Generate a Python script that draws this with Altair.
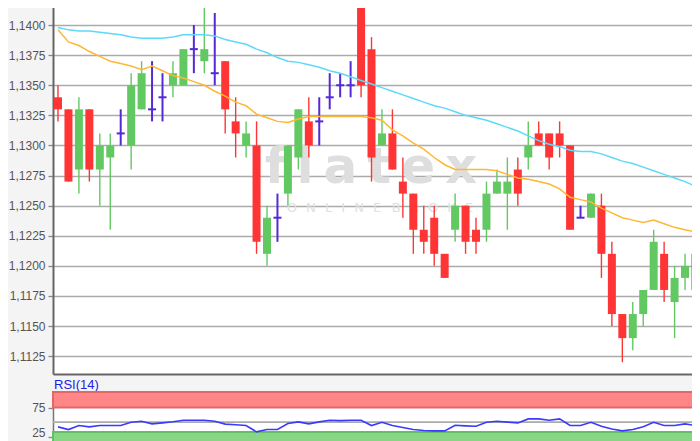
import altair as alt
import numpy as np
import pandas as pd

# ---------------- data ----------------
IDX = list(range(1, 63))
OPEN = [1.1340, 1.1330, 1.1280, 1.1330, 1.1280, 1.1290, 1.1310, 1.1300, 1.1330, 1.1330,
        1.1340, 1.1350, 1.1350, 1.1380, 1.1370, 1.1360, 1.1370, 1.1320, 1.1300, 1.1300,
        1.1210, 1.1240, 1.1260, 1.1290, 1.1320, 1.1320, 1.1340, 1.1350, 1.1350, 1.1420,
        1.1380, 1.1300, 1.1310, 1.1270, 1.1260, 1.1230, 1.1240, 1.1210, 1.1230, 1.1250,
        1.1230, 1.1230, 1.1260, 1.1260, 1.1280, 1.1290, 1.1310, 1.1310, 1.1310, 1.1300,
        1.1240, 1.1240, 1.1250, 1.1210, 1.1160, 1.1140, 1.1160, 1.1180, 1.1210, 1.1170,
        1.1190, 1.1210]
HIGH = [1.1350, 1.1330, 1.1340, 1.1330, 1.1310, 1.1310, 1.1330, 1.1360, 1.1370, 1.1370,
        1.1360, 1.1370, 1.1380, 1.1400, 1.1420, 1.1410, 1.1370, 1.1340, 1.1320, 1.1320,
        1.1250, 1.1260, 1.1300, 1.1330, 1.1340, 1.1340, 1.1360, 1.1360, 1.1370, 1.1420,
        1.1390, 1.1330, 1.1330, 1.1290, 1.1260, 1.1250, 1.1250, 1.1210, 1.1260, 1.1250,
        1.1240, 1.1270, 1.1280, 1.1290, 1.1290, 1.1320, 1.1320, 1.1310, 1.1320, 1.1300,
        1.1250, 1.1260, 1.1260, 1.1220, 1.1160, 1.1170, 1.1180, 1.1230, 1.1220, 1.1200,
        1.1210, 1.1220]
LOW = [1.1320, 1.1270, 1.1260, 1.1270, 1.1250, 1.1230, 1.1300, 1.1280, 1.1330, 1.1320,
       1.1320, 1.1340, 1.1350, 1.1360, 1.1360, 1.1350, 1.1310, 1.1290, 1.1290, 1.1210,
       1.1200, 1.1220, 1.1250, 1.1280, 1.1290, 1.1300, 1.1330, 1.1340, 1.1340, 1.1340,
       1.1270, 1.1300, 1.1280, 1.1240, 1.1210, 1.1210, 1.1200, 1.1190, 1.1220, 1.1210,
       1.1210, 1.1220, 1.1260, 1.1230, 1.1250, 1.1280, 1.1300, 1.1280, 1.1290, 1.1230,
       1.1240, 1.1240, 1.1190, 1.1150, 1.1120, 1.1130, 1.1150, 1.1180, 1.1170, 1.1140,
       1.1180, 1.1170]
CLOSE = [1.1330, 1.1270, 1.1330, 1.1280, 1.1300, 1.1300, 1.1310, 1.1350, 1.1360, 1.1330,
         1.1340, 1.1360, 1.1380, 1.1380, 1.1380, 1.1360, 1.1330, 1.1310, 1.1310, 1.1220,
         1.1240, 1.1240, 1.1300, 1.1330, 1.1300, 1.1320, 1.1340, 1.1350, 1.1350, 1.1350,
         1.1290, 1.1310, 1.1280, 1.1260, 1.1230, 1.1220, 1.1210, 1.1190, 1.1250, 1.1220,
         1.1220, 1.1260, 1.1270, 1.1270, 1.1260, 1.1300, 1.1300, 1.1290, 1.1300, 1.1230,
         1.1240, 1.1260, 1.1210, 1.1160, 1.1140, 1.1160, 1.1180, 1.1220, 1.1180, 1.1190,
         1.1200, 1.1180]
MA_FAST = [1.1396, 1.1386, 1.1383, 1.1378, 1.1374, 1.1370, 1.1368, 1.1366, 1.1363, 1.1366,
           1.1362, 1.1358, 1.1356, 1.1353, 1.1350, 1.1345, 1.1341, 1.1336, 1.1333, 1.1326,
           1.1323, 1.1320, 1.1319, 1.1322, 1.1324, 1.1324, 1.1324, 1.1324, 1.1324, 1.1324,
           1.1323, 1.1321, 1.1313, 1.1308, 1.1302, 1.1297, 1.1290, 1.1284, 1.1280, 1.1280,
           1.1280, 1.1280, 1.1279, 1.1276, 1.1273, 1.1272, 1.1270, 1.1268, 1.1264, 1.1257,
           1.1255, 1.1253, 1.1248, 1.1244, 1.1240, 1.1238, 1.1236, 1.1238, 1.1235, 1.1232,
           1.1230, 1.1228]
MA_SLOW = [1.1398, 1.1396, 1.1395, 1.1395, 1.1394, 1.1393, 1.1392, 1.1390, 1.1389, 1.1389,
           1.1389, 1.1390, 1.1392, 1.1392, 1.1392, 1.1391, 1.1388, 1.1386, 1.1384, 1.1380,
           1.1377, 1.1373, 1.1370, 1.1369, 1.1367, 1.1365, 1.1362, 1.1360, 1.1357, 1.1354,
           1.1351, 1.1348, 1.1345, 1.1342, 1.1339, 1.1336, 1.1333, 1.1331, 1.1328, 1.1325,
           1.1323, 1.1321, 1.1318, 1.1315, 1.1312, 1.1308, 1.1304, 1.1301, 1.1299, 1.1296,
           1.1295, 1.1295, 1.1293, 1.1290, 1.1287, 1.1285, 1.1282, 1.1279, 1.1276, 1.1273,
           1.1270, 1.1266]
RSI = [41.7, 37.1, 44.0, 41.7, 44.0, 44.0, 44.0, 49.7, 51.4, 46.9,
       48.6, 50.5, 53.1, 53.1, 53.1, 51.4, 46.5, 45.5, 44.0, 33.1,
       37.1, 37.1, 47.4, 50.3, 46.9, 50.3, 53.1, 52.5, 53.1, 53.1,
       44.0, 49.7, 44.0, 40.5, 37.1, 35.5, 34.8, 34.8, 44.5, 43.5,
       42.8, 49.7, 51.4, 50.0, 48.6, 55.5, 55.5, 53.1, 55.5, 44.0,
       44.0, 49.7, 42.8, 38.0, 34.8, 37.1, 42.0, 49.7, 44.0, 44.0,
       46.9, 44.0]

PRICE_TICKS = [1.1125, 1.1150, 1.1175, 1.1200, 1.1225, 1.1250, 1.1275,
               1.1300, 1.1325, 1.1350, 1.1375, 1.1400]
RSI_TICKS = [25, 75]
RSI_MID = [50]
RSI_OVERBOUGHT = [75]
RSI_OVERSOLD = [33]
TS = "\u2009"
WATERMARK = [TS.join("flatex")]
SEP = "\u2002\u2009"
WATERMARK_SUB = [SEP.join("ONLINE") + " \u2002" + SEP.join("BROKER")]
RSI_LABEL = ["RSI(14)"]

# ---------------- layout / style ----------------
W = 650
H_MAIN = 374
H_RSI = 59
FONT = "Liberation Sans"
LABEL_COLOR = "#555555"
GREEN = "#62c962"
RED = "#ff3535"
DOJI = "#5528d8"

df = pd.DataFrame({"idx": IDX, "open": OPEN, "high": HIGH, "low": LOW,
                   "close": CLOSE, "ma_fast": MA_FAST, "ma_slow": MA_SLOW, "rsi": RSI})
df["kind"] = np.where(df["close"] > df["open"], "up",
                      np.where(df["close"] < df["open"], "down", "doji"))

x_scale = alt.Scale(domain=[0.5215, 62.72], nice=False, zero=False, padding=0)
y_scale = alt.Scale(domain=[1.11102, 1.14208], nice=False, zero=False, padding=0)
rsi_scale = alt.Scale(domain=[0, 102], nice=False, zero=False, padding=0)

x_axis = alt.Axis(labels=False, ticks=False, grid=False, domain=True,
                  domainColor="#666666", domainWidth=2, title=None)
y_axis = alt.Axis(values=PRICE_TICKS,
                  labelExpr="replace(format(datum.value, '.4f'), '.', ',')",
                  grid=True, gridColor="#ababab", gridWidth=1.6,
                  tickSize=5, tickColor="#888888", tickWidth=1.3,
                  labelColor=LABEL_COLOR, labelFont=FONT, labelFontSize=12,
                  labelPadding=3, domainColor="#666666", domainWidth=2,
                  title=None)
rsi_axis = alt.Axis(values=RSI_TICKS, grid=False, tickSize=5, tickColor="#888888",
                    tickWidth=1.3, labelColor=LABEL_COLOR, labelFont=FONT,
                    labelFontSize=12, labelPadding=3, domainColor="#777777",
                    domainWidth=1.5, title=None,
                    labelOffset={"condition": {"test": "datum.value == 25", "value": -4},
                                 "value": 0})

X = alt.X("idx:Q", scale=x_scale, axis=x_axis)
kind_color = alt.Color("kind:N", scale=alt.Scale(domain=["up", "down", "doji"],
                                                  range=[GREEN, RED, DOJI]), legend=None)

base = alt.Chart(df)

wm = alt.Chart(pd.DataFrame({"t": WATERMARK})).mark_text(
    font="DejaVu Sans", fontWeight="bold", fontSize=50, color="#dedede",
    align="center", baseline="alphabetic").encode(
    text="t:N", x=alt.value(318), y=alt.value(183))
wm_sub = alt.Chart(pd.DataFrame({"t": WATERMARK_SUB})).mark_text(
    font="DejaVu Sans", fontSize=13, color="#e0e0e0",
    align="center", baseline="alphabetic").encode(
    text="t:N", x=alt.value(336), y=alt.value(212))

wicks = base.mark_rule(clip=True).encode(
    x=X,
    y=alt.Y("low:Q", scale=y_scale, axis=y_axis),
    y2="high:Q",
    color=kind_color,
    strokeWidth=alt.condition("datum.kind == 'doji'", alt.value(2), alt.value(1.4)),
)
bodies = base.transform_filter("datum.kind != 'doji'").mark_bar(size=8, clip=True).encode(
    x=X,
    y=alt.Y("open:Q", scale=y_scale, axis=y_axis),
    y2="close:Q",
    color=kind_color,
)
doji = base.transform_filter("datum.kind == 'doji'").mark_rule(
    clip=True, strokeWidth=2, xOffset=-4, x2Offset=4).encode(
    x=X, x2="idx:Q",
    y=alt.Y("close:Q", scale=y_scale, axis=y_axis),
    color=kind_color,
)
ma_fast = base.mark_line(color="#ffb733", strokeWidth=1.5, clip=True).encode(
    x=X, y=alt.Y("ma_fast:Q", scale=y_scale, axis=y_axis))
ma_slow = base.mark_line(color="#5cd9fa", strokeWidth=1.5, clip=True).encode(
    x=X, y=alt.Y("ma_slow:Q", scale=y_scale, axis=y_axis))

rsi_label = alt.Chart(pd.DataFrame({"t": RSI_LABEL})).mark_text(
    font=FONT, fontSize=13, color="#2020ee", align="left", baseline="alphabetic").encode(
    text="t:N", x=alt.value(1), y=alt.value(H_MAIN + 15))

main = alt.layer(wm, wm_sub, wicks, bodies, doji, ma_fast, ma_slow, rsi_label).properties(
    width=W, height=H_MAIN)

# RSI panel
ob = alt.Chart(pd.DataFrame({"lo": RSI_OVERBOUGHT})).mark_rect(
    fill="#ff8686", stroke="#e06868", strokeWidth=2).encode(
    x=alt.value(0), x2=alt.value(W),
    y=alt.Y("lo:Q", scale=rsi_scale, axis=rsi_axis), y2=alt.value(0))
os_ = alt.Chart(pd.DataFrame({"lo": RSI_OVERSOLD})).mark_rect(
    fill="#86d686", stroke="#64be64", strokeWidth=2).encode(
    x=alt.value(0), x2=alt.value(W),
    y=alt.Y("lo:Q", scale=rsi_scale, axis=rsi_axis), y2=alt.value(H_RSI + 2))
mid = alt.Chart(pd.DataFrame({"v": RSI_MID})).mark_rule(
    color="#ababab", strokeWidth=1.6).encode(
    x=alt.value(0), x2=alt.value(W),
    y=alt.Y("v:Q", scale=rsi_scale, axis=rsi_axis))
rsi_line = base.mark_line(color="#3a3aff", strokeWidth=1.6, clip=True).encode(
    x=alt.X("idx:Q", scale=x_scale, axis=None),
    y=alt.Y("rsi:Q", scale=rsi_scale, axis=rsi_axis))

rsi = alt.layer(ob, os_, mid, rsi_line).properties(width=W, height=H_RSI)

chart = alt.vconcat(main, rsi, spacing=18, bounds="flush").resolve_scale(
    x="independent", y="independent", color="independent").properties(
    padding={"top": -8, "left": 0, "right": -12, "bottom": 0},
    background="#f4f4f4").configure_view(stroke=None, fill="white")

chart.save("out.html", embed_options={"renderer": "svg", "actions": False})
